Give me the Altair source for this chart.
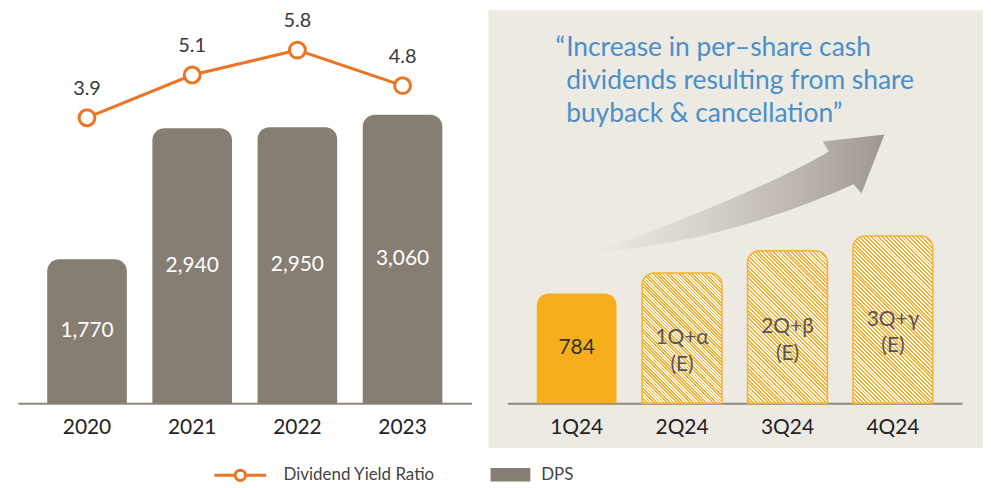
import math
import altair as alt
import pandas as pd

# ---------------- data ----------------
years = ["2020", "2021", "2022", "2023"]
dps = [1770, 2940, 2950, 3060]
yield_ratio = [3.9, 5.1, 5.8, 4.8]

quarters = ["1Q24", "2Q24", "3Q24", "4Q24"]
q_values = [784, 930, 1090, 1195]          # bar heights
q_labels = ["784", "1Q+α\n(E)", "2Q+β\n(E)", "3Q+γ\n(E)"]
q_status = ["actual", "estimate", "estimate", "estimate"]

quote_open = "“"
quote_lines = [
    "Increase in per–share cash",
    "dividends resulting from share",
    "buyback & cancellation”",
]
series_line = "Dividend Yield Ratio"
series_bar = "DPS"

# ---------------- layout / style ----------------
FONT = "Lato"
LEFT_W, LEFT_H = 456, 395
RIGHT_W, RIGHT_H = 497, 440
RIGHT_RANGE = [19, 476]
PAD_IN, PAD_OUT = 0.243, 0.278
DPS_DOMAIN = [484, 3995]
YIELD_DOMAIN = [-4.12, 6.92]
Q_DOMAIN = [-320, 2808]
BASE_OFFSET = round(RIGHT_H * (0 - Q_DOMAIN[0]) / (Q_DOMAIN[1] - Q_DOMAIN[0]))
QUOTE_X, QUOTE_Y, QUOTE_SIZE = 78, 25, 26.5

GRAY = "#867E72"
ORANGE = "#EC7424"
GOLD = "#F6AE1B"
HATCH = "#F4B032"
BEIGE = "#EDEAE4"
BLUE = "#4A8FC9"


def x_axis(offset=0):
    return alt.Axis(title=None, labelFont=FONT, labelFontSize=21, labelColor="#222222",
                    labelPadding=13, ticks=False, domainColor="#8E877D", domainWidth=2,
                    labelAngle=0, grid=False, offset=offset)


def hatch(w, h, n=64, frac=0.5, c1=HATCH, c2="#FFFDF8"):
    # diagonal stripes at 45 degrees drawn as a many-stop linear gradient
    stops = []
    for k in range(n):
        t0, tm, t1 = k / n, (k + frac) / n, (k + 1) / n
        stops += [alt.GradientStop(offset=t0, color=c1), alt.GradientStop(offset=tm, color=c1),
                  alt.GradientStop(offset=tm, color=c2), alt.GradientStop(offset=t1, color=c2)]
    s = (w + h) / (w * w + h * h)
    return alt.LinearGradient(gradient="linear", stops=stops, x1=1, y1=0, x2=1 - s * w, y2=s * h)


# ---------------- left panel ----------------
left_df = pd.DataFrame({"year": years, "dps": dps, "yield": yield_ratio,
                        "s_line": [series_line] * len(years), "s_bar": [series_bar] * len(years)})
xl = alt.X("year:N", sort=years, scale=alt.Scale(paddingInner=PAD_IN, paddingOuter=PAD_OUT),
           axis=x_axis())
y_dps = alt.Scale(domain=DPS_DOMAIN, zero=False, nice=False)
y_yield = alt.Scale(domain=YIELD_DOMAIN, zero=False, nice=False)

line_legend = alt.Legend(
    orient="none", legendX=196, legendY=440, title=None, padding=0,
    symbolType="M-1,0L-0.2,0M0.2,0L1,0M0.2,0A0.2,0.2,0,1,1,-0.2,0A0.2,0.2,0,1,1,0.2,0",
    symbolSize=2704, symbolStrokeWidth=3, symbolFillColor="white",
    labelFont=FONT, labelFontSize=17, labelColor="#444444", labelOffset=16)
bar_legend = alt.Legend(
    orient="none", legendX=475, legendY=447, title=None, padding=0,
    symbolType="M-1,-0.34L1,-0.34L1,0.34L-1,0.34Z", symbolSize=1600, symbolStrokeWidth=0,
    labelFont=FONT, labelFontSize=17, labelColor="#444444", labelOffset=11)

stroke_enc = alt.Stroke("s_line:N", scale=alt.Scale(domain=[series_line], range=[ORANGE]),
                        legend=line_legend)

base_l = alt.Chart(left_df).encode(x=xl)
bars_l = base_l.mark_bar(cornerRadiusTopLeft=12, cornerRadiusTopRight=12).encode(
    y=alt.Y("dps:Q", scale=y_dps, axis=None),
    y2=alt.Y2Datum(DPS_DOMAIN[0]),
    fill=alt.Fill("s_bar:N", scale=alt.Scale(domain=[series_bar], range=[GRAY]),
                  legend=bar_legend),
)
bar_text_l = base_l.transform_calculate(mid=f"(datum.dps + {DPS_DOMAIN[0]}) / 2").mark_text(
    font=FONT, fontSize=21, color="white", baseline="middle").encode(
    y=alt.Y("mid:Q", scale=y_dps, axis=None),
    text=alt.Text("dps:Q", format=","),
)
line_l = base_l.mark_line(strokeWidth=3).encode(
    y=alt.Y("yield:Q", scale=y_yield, axis=None), stroke=stroke_enc)
pts_l = base_l.mark_point(shape="circle", size=254, filled=True, fill="white", strokeWidth=3,
                          opacity=1).encode(
    y=alt.Y("yield:Q", scale=y_yield, axis=None), stroke=stroke_enc)
ylab_l = base_l.mark_text(font=FONT, fontSize=20, color="#3A3A3A", dy=-29, baseline="middle").encode(
    y=alt.Y("yield:Q", scale=y_yield, axis=None),
    text=alt.Text("yield:Q", format=".1f"),
)

left = alt.layer(bars_l, bar_text_l, line_l, pts_l, ylab_l).resolve_scale(
    y="independent").properties(width=LEFT_W, height=LEFT_H)

# ---------------- right panel ----------------
right_df = pd.DataFrame({"quarter": quarters, "value": q_values, "label": q_labels,
                         "status": q_status})
xr = alt.X("quarter:N", sort=quarters,
           scale=alt.Scale(range=RIGHT_RANGE, paddingInner=PAD_IN, paddingOuter=PAD_OUT),
           axis=x_axis(offset=-BASE_OFFSET))
y_q = alt.Scale(domain=Q_DOMAIN, zero=False, nice=False)
yr = alt.Y("value:Q", scale=y_q, axis=None)

base_r = alt.Chart(right_df).encode(x=xr)

step = (RIGHT_RANGE[1] - RIGHT_RANGE[0]) / (len(quarters) - PAD_IN + 2 * PAD_OUT)
bw = step * (1 - PAD_IN)
px_per_unit = RIGHT_H / (Q_DOMAIN[1] - Q_DOMAIN[0])

ARROW = ("M-2.995,0.16C-2.195,-0.12,-1.145,-0.55,-0.645,-0.85L-0.705,-0.95L-0.085,-1.02"
         "L-0.315,-0.43L-0.395,-0.52C-1.195,-0.16,-2.095,0.10,-2.995,0.16Z")
arrow_grad = alt.LinearGradient(gradient="linear", x1=0, y1=0, x2=1, y2=0, stops=[
    alt.GradientStop(offset=0, color="#ECE9E3"),
    alt.GradientStop(offset=0.35, color="#D9D4CE"),
    alt.GradientStop(offset=0.7, color="#BDB6AF"),
    alt.GradientStop(offset=1, color="#A0988F"),
])
arrow = base_r.transform_filter(f"datum.quarter == '{quarters[-1]}'").mark_point(
    shape=ARROW, size=40000, filled=True, fill=arrow_grad, strokeWidth=0, opacity=1).encode(y=yr)

layers = [arrow]
solid = base_r.transform_filter("datum.status == 'actual'").mark_bar(
    cornerRadiusTopLeft=12, cornerRadiusTopRight=12, color=GOLD).encode(y=yr, y2=alt.Y2Datum(0))
layers.append(solid)
for q, v, st in zip(quarters, q_values, q_status):
    if st != "estimate":
        continue
    layers.append(base_r.transform_filter(f"datum.quarter == '{q}'").mark_bar(
        cornerRadiusTopLeft=12, cornerRadiusTopRight=12, fill=hatch(bw, v * px_per_unit),
        stroke=HATCH, strokeWidth=1.5).encode(y=yr, y2=alt.Y2Datum(0)))

text_r = base_r.transform_calculate(mid="datum.value / 2").mark_text(
    font=FONT, fontSize=21, baseline="middle", lineBreak="\n", lineHeight=27).encode(
    y=alt.Y("mid:Q", scale=y_q, axis=None),
    text="label:N",
    color=alt.condition("datum.status == 'actual'", alt.value("#333333"), alt.value("#555555")),
)
layers.append(text_r)

quote_df = pd.DataFrame({"quote": ["\n".join(quote_lines)], "open": [quote_open]})
quote_body = alt.Chart(quote_df).mark_text(
    font=FONT, fontSize=QUOTE_SIZE, color=BLUE, align="left", baseline="top",
    lineBreak="\n", lineHeight=33).encode(
    text="quote:N", x=alt.value(QUOTE_X), y=alt.value(QUOTE_Y))
quote_mark = alt.Chart(quote_df).mark_text(
    font=FONT, fontSize=QUOTE_SIZE, color=BLUE, align="right", baseline="top").encode(
    text="open:N", x=alt.value(QUOTE_X - 1), y=alt.value(QUOTE_Y))
layers += [quote_body, quote_mark]

right = alt.layer(*layers).properties(
    width=RIGHT_W, height=RIGHT_H,
    view=alt.ViewBackground(fill=BEIGE, strokeWidth=0),
)

chart = alt.hconcat(left, right, spacing=17, bounds="flush").properties(
    padding={"left": 10, "top": 1, "right": 0, "bottom": 0},
).configure_view(strokeWidth=0)

chart.save("out.html", embed_options={"renderer": "svg", "actions": False})
